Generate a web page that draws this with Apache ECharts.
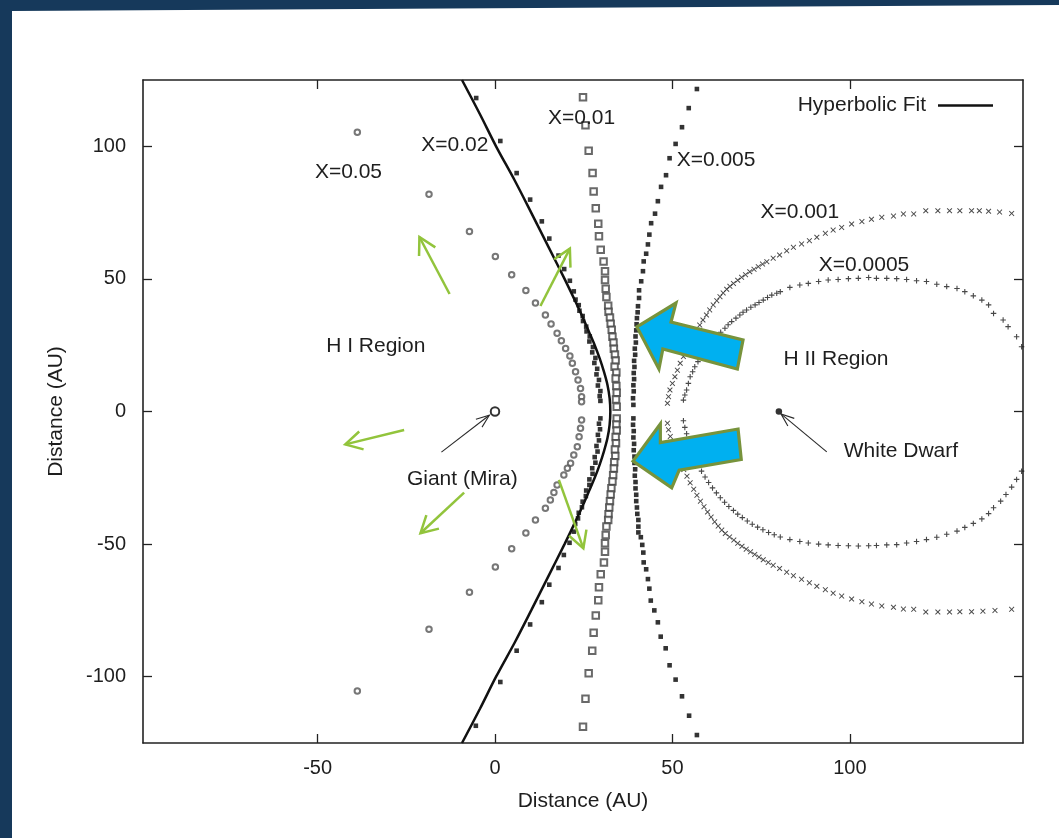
<!DOCTYPE html>
<html>
<head>
<meta charset="utf-8">
<title>Distance (AU)</title>
<script src="https://cdn.jsdelivr.net/npm/echarts@6/dist/echarts.min.js"></script>
<style>
  html, body { margin: 0; padding: 0; background: #ffffff; }
  #chart { width: 1059px; height: 838px; }
</style>
</head>
<body>
<div id="chart"></div>
<script>
// ---- axes ----
const xRange = [-99.2, 148.8];
const yRange = [-125, 125];
const xTickValues = [-50, 0, 50, 100];
const yTickValues = [-100, -50, 0, 50, 100];

// ---- ionisation-front contours, [x, y] in AU ----
const ptsX05 = [
  [-38.8,105.3],[-18.6,81.9],[-7.2,67.9],[0.1,58.4],[4.7,51.6],[8.7,45.6],[11.4,40.9],[14.2,36.4],
  [15.8,33.0],[17.5,29.5],[18.7,26.7],[19.9,23.8],[21.1,20.9],[21.8,18.2],[22.7,15.0],[23.4,11.9],
  [24.1,8.7],[24.4,5.6],[24.4,3.7],
  [24.4,-3.2],[24.1,-6.3],[23.7,-9.5],[23.2,-13.3],[22.2,-16.4],[21.3,-19.5],[20.4,-21.4],[19.4,-23.9],
  [17.5,-27.7],[16.6,-30.5],[15.6,-33.4],[14.2,-36.5],[11.4,-40.9],[8.7,-45.8],[4.7,-51.8],[0.1,-58.6],
  [-7.2,-68.2],[-18.6,-82.1],[-38.8,-105.4]
];
const ptsX02 = [
  [-5.3,118.2],[1.5,102.0],[6.1,89.9],[9.9,79.9],[13.2,71.7],[15.3,65.2],[17.9,58.8],[19.5,53.7],
  [21.1,49.3],[22.2,45.3],[22.7,42.2],[23.6,40.1],[23.8,38.0],[24.7,36.0],[24.8,34.1],[25.7,32.0],
  [25.8,30.2],[26.7,28.3],[26.6,26.4],[27.6,24.3],[27.4,22.3],[28.3,20.2],[28.0,18.3],[28.8,16.1],
  [28.6,14.0],[29.3,11.9],[29.0,9.8],[29.7,7.7],[29.5,5.8],[29.7,4.0],
  [29.7,-2.6],[29.3,-4.6],[29.6,-6.7],[29.0,-8.8],[29.3,-10.9],[28.6,-13.0],[28.9,-15.1],[28.1,-17.2],
  [28.3,-19.3],[27.4,-21.4],[27.5,-23.5],[26.6,-25.6],[26.6,-27.7],[25.7,-29.8],[25.6,-31.9],[24.7,-34.0],
  [24.5,-36.1],[23.6,-38.2],[23.4,-40.3],[22.6,-42.4],[22.2,-45.3],[21.0,-49.5],[19.4,-54.1],[17.9,-59.0],
  [15.3,-65.3],[13.2,-71.9],[9.9,-80.3],[6.1,-90.2],[1.5,-102.0],[-5.4,-118.5]
];
const ptsX01 = [
  [24.8,118.5],[25.5,107.9],[26.4,98.3],[27.5,89.9],[27.8,83.0],[28.4,76.6],[29.1,70.8],[29.3,66.1],
  [29.8,61.0],[30.6,56.6],[31.0,52.9],[31.0,49.6],[31.2,46.3],[31.4,43.2],[31.9,39.9],[32.0,37.6],
  [32.4,35.4],[32.6,33.1],[32.9,30.8],[33.1,28.2],[33.4,26.0],[33.5,23.7],[33.8,21.5],[34.0,19.2],
  [33.7,16.9],[34.2,14.7],[34.0,12.4],[34.2,9.6],[34.3,7.1],[34.1,4.5],[34.3,1.8],
  [34.3,-2.6],[34.2,-4.9],[34.3,-7.2],[34.0,-9.6],[34.1,-12.0],[33.8,-14.3],[33.9,-16.8],[33.6,-19.1],
  [33.5,-21.5],[33.3,-24.0],[33.1,-26.4],[32.8,-28.9],[32.6,-31.3],[32.4,-33.8],[32.2,-36.2],[32.0,-38.7],
  [31.9,-40.9],[31.4,-43.4],[31.2,-46.6],[31.0,-49.7],[31.0,-52.9],[30.7,-56.9],[29.8,-61.4],[29.3,-66.3],
  [29.1,-71.2],[28.4,-76.9],[27.8,-83.4],[27.4,-90.2],[26.4,-98.7],[25.5,-108.3],[24.8,-118.9]
];
const ptsX005 = [
  [56.9,121.6],[54.6,114.4],[52.7,107.2],[50.9,100.9],[49.2,95.5],[48.2,89.1],[46.8,84.7],[45.9,79.3],
  [45.1,74.6],[44.0,71.0],[43.5,66.7],[43.1,63.0],[42.6,59.5],[41.9,56.6],[41.7,52.9],[41.2,49.1],
  [40.6,45.7],[40.6,42.8],[40.3,39.7],[40.2,37.4],[40.0,35.2],[39.9,32.9],[39.8,30.6],[39.6,28.3],
  [39.7,26.0],[39.4,23.7],[39.5,21.4],[39.2,19.1],[39.3,16.8],[39.1,14.5],[39.2,12.2],[39.0,9.9],
  [39.1,7.6],[38.9,5.0],[39.0,2.5],
  [39.0,-2.6],[38.9,-5.0],[39.1,-7.4],[39.0,-9.8],[39.2,-12.2],[39.1,-14.6],[39.3,-17.0],[39.3,-19.4],
  [39.5,-21.8],[39.4,-24.2],[39.6,-26.6],[39.6,-29.0],[39.8,-31.4],[39.8,-33.8],[40.0,-36.2],[40.1,-38.6],
  [40.4,-40.9],[40.4,-43.4],[40.4,-45.6],[41.1,-47.4],[41.5,-50.3],[41.8,-53.2],[41.9,-56.9],[42.6,-59.5],
  [43.1,-63.2],[43.5,-66.8],[43.9,-71.3],[44.9,-75.0],[45.9,-79.5],[46.7,-84.9],[48.1,-89.3],[49.2,-95.7],
  [50.9,-101.1],[52.7,-107.4],[54.7,-114.7],[56.9,-122.0]
];
const ptsX001 = [
  [145.6,74.7],[142.2,75.2],[139.1,75.5],[136.5,75.7],[134.3,75.7],[131.0,75.7],[128.1,75.7],[124.8,75.7],
  [121.4,75.7],[118.0,74.5],[115.1,74.5],[112.3,73.7],[109.0,73.2],[106.1,72.5],[103.4,71.6],[100.5,70.7],
  [97.7,69.4],[95.3,68.4],[93.1,67.2],[90.7,65.7],[88.6,64.4],[86.4,63.2],[84.1,61.9],[82.2,60.6],
  [80.2,59.0],[78.4,57.8],[76.6,56.5],[75.4,55.6],[74.2,54.6],[73.0,53.6],[71.8,52.7],[70.6,51.6],
  [69.5,50.6],[68.4,49.5],[67.2,48.3],[66.2,47.2],[65.3,46.1],[64.3,44.7],[63.4,43.3],[62.5,41.8],
  [61.5,40.2],[60.5,38.3],[59.6,36.4],[58.6,34.5],[57.7,32.6],[56.7,30.4],[55.9,28.2],[54.9,25.7],
  [54.0,23.2],[53.1,20.7],[52.2,18.2],[51.4,15.6],[50.7,13.1],[50.0,10.6],[49.3,8.1],[48.9,5.6],[48.6,3.1],
  [48.6,-4.4],[48.9,-6.9],[49.4,-9.4],[50.0,-11.9],[50.7,-14.4],[51.5,-16.9],[52.3,-19.4],[53.2,-21.9],
  [54.1,-24.4],[55.0,-26.9],[56.0,-29.3],[56.9,-31.6],[57.9,-33.8],[58.9,-35.9],[59.9,-37.9],[60.9,-39.8],
  [61.9,-41.6],[62.9,-43.2],[63.9,-44.7],[64.9,-46.0],[66.1,-47.3],[67.3,-48.5],[68.4,-49.7],[69.6,-50.8],
  [70.8,-51.9],[72.0,-52.9],[73.2,-53.9],[74.4,-54.9],[75.6,-55.9],[77.0,-56.9],[78.4,-58.0],[80.2,-59.2],
  [82.2,-60.6],[84.1,-61.9],[86.4,-63.3],[88.6,-64.6],[90.7,-65.9],[93.1,-67.2],[95.3,-68.5],[97.7,-69.6],
  [100.5,-70.7],[103.4,-71.7],[106.1,-72.6],[109.0,-73.3],[112.3,-73.8],[115.1,-74.5],[118.0,-74.6],[121.4,-75.6],
  [124.8,-75.6],[128.1,-75.6],[131.0,-75.5],[134.3,-75.5],[137.5,-75.3],[140.9,-75.0],[145.6,-74.6]
];
const ptsX0005 = [
  [148.4,24.4],[147.0,28.2],[144.6,32.0],[143.2,34.5],[140.5,37.0],[139.1,40.2],[137.2,42.0],[134.8,43.6],
  [132.4,45.2],[130.2,46.4],[127.3,47.1],[124.5,48.0],[121.6,49.0],[118.8,49.3],[116.0,49.8],[113.2,50.1],
  [110.4,50.2],[107.5,50.2],[105.3,50.5],[102.4,50.2],[99.6,50.1],[96.7,49.8],[93.9,49.6],[91.2,49.0],
  [88.3,48.3],[85.9,47.7],[83.1,46.8],[80.4,45.2],[79.4,44.6],[78.0,43.9],[76.8,43.0],[75.6,42.0],
  [74.4,41.1],[73.3,40.2],[72.1,39.3],[70.9,38.3],[69.9,37.4],[69.0,36.4],[67.9,35.2],[66.7,33.9],
  [65.7,32.7],[64.8,31.4],[63.6,29.9],[62.5,28.2],[61.5,26.7],[60.6,25.1],[59.5,23.0],[58.2,20.7],
  [57.2,18.8],[56.3,16.9],[55.7,15.0],[55.0,13.1],[54.5,10.6],[54.0,8.1],[53.5,6.2],[53.1,4.3],
  [53.1,-3.5],[53.5,-6.0],[54.0,-8.4],[54.5,-10.8],[55.1,-13.2],[55.8,-15.6],[56.4,-17.9],[57.3,-20.2],
  [58.2,-22.5],[59.2,-24.7],[60.2,-26.8],[61.3,-28.8],[62.4,-30.7],[63.5,-32.5],[64.7,-34.2],[65.9,-35.8],
  [67.2,-37.3],[68.4,-38.7],[69.7,-40.0],[71.1,-41.3],[72.5,-42.5],[74.0,-43.6],[75.5,-44.6],[77.1,-45.6],
  [78.7,-46.5],[80.4,-47.3],[83.1,-48.3],[85.9,-49.0],[88.3,-49.6],[91.2,-50.0],[93.9,-50.3],[96.7,-50.5],
  [99.6,-50.6],[102.4,-50.7],[105.3,-50.6],[107.5,-50.5],[110.4,-50.3],[113.2,-50.2],[116.0,-49.6],[118.8,-49.0],
  [121.6,-48.3],[124.5,-47.4],[127.3,-46.3],[130.2,-45.1],[132.4,-43.7],[134.8,-42.2],[137.2,-40.5],[139.1,-38.5],
  [140.5,-36.3],[142.5,-33.8],[144.0,-31.3],[145.6,-28.5],[147.0,-25.6],[148.4,-22.5]
];
const hyperbolicFit = [
  [-9.3,125],[-4.2,112],[0.3,100],[5.6,87],[10.2,75],[15.1,62],[19.6,50],[23.2,40],[24.9,35],[26.5,30],
  [28.1,25],[29.5,20],[30.7,15],[31.7,10],[32.3,5],[32.5,0],[32.3,-5],[31.7,-10],[30.7,-15],[29.5,-20],
  [28.1,-25],[26.5,-30],[24.9,-35],[23.2,-40],[19.6,-50],[15.1,-62],[10.2,-75],[5.6,-87],[0.3,-100],
  [-4.2,-112],[-9.3,-125]
];
const giantStar = [[0, 0]];
const whiteDwarf = [[80, 0]];

// ---- annotations (data coordinates) ----
const curveLabels = [
  ['X=0.05', [-41.3, 90.1]],
  ['X=0.02', [-11.3, 100.5]],
  ['X=0.01', [24.4, 110.7]],
  ['X=0.005', [62.3, 94.6]],
  ['X=0.001', [85.9, 75.3]],
  ['X=0.0005', [104.0, 55.2]]
];
const regionLabels = [
  ['H I Region', [-33.6, 24.7]],
  ['H II Region', [96.1, 19.8]],
  ['Giant (Mira)', [-9.2, -25.5]],
  ['White Dwarf', [114.4, -14.9]]
];
// pointer arrows: [from, to]
const pointerArrows = [
  [[-15.1, -15.3], [-1.6, -1.4]],
  [[93.5, -15.2], [80.6, -0.9]]
];
// outflow arrows: [from, to]
const flowArrows = [
  [[-12.8, 44.3], [-21.3, 65.8]],
  [[12.8, 39.8], [21.1, 61.4]],
  [[-25.6, -7.0], [-42.2, -12.4]],
  [[-8.7, -30.6], [-21.0, -45.9]],
  [[18.0, -25.8], [24.9, -51.6]]
];
// ionising-radiation block arrows (outline polygons)
const blockArrows = [
  [[40.0,31.9],[51.0,40.9],[49.6,33.7],[69.9,27.0],[68.3,16.0],[47.3,23.6],[46.2,16.0]],
  [[38.9,-18.7],[46.6,-4.7],[46.6,-11.7],[68.5,-6.6],[69.4,-18.1],[51.9,-22.1],[49.8,-28.8]]
];

const FONT = '"Liberation Sans", Arial, Helvetica, sans-serif';
const INK = '#1e1e1e';
const CROSS = 'path://M0,1.2L1.2,0L5,3.8L8.8,0L10,1.2L6.2,5L10,8.8L8.8,10L5,6.2L1.2,10L0,8.8L3.8,5Z';
const PLUS = 'path://M4,0H6V4H10V6H6V10H4V6H0V4H4Z';

const chart = echarts.init(document.getElementById('chart'), null, { renderer: 'canvas' });

const frameLine = { show: true, onZero: false, lineStyle: { color: '#222', width: 1.6 } };
const innerTick = { show: true, inside: true, length: 9, lineStyle: { color: '#222', width: 1.3 } };

chart.setOption({
  animation: false,
  backgroundColor: '#ffffff',
  grid: { left: 143, top: 80, width: 880, height: 663, containLabel: false },
  legend: {
    data: ['Hyperbolic Fit'],
    right: 61, top: 90,
    align: 'right',
    icon: 'rect',
    itemWidth: 55, itemHeight: 2.5,
    selectedMode: false,
    textStyle: { fontFamily: FONT, fontSize: 21, color: INK, padding: [0, 7, 0, 0] }
  },
  xAxis: [
    {
      type: 'value', min: xRange[0], max: xRange[1], position: 'bottom',
      axisLine: frameLine,
      axisTick: Object.assign({ customValues: xTickValues }, innerTick),
      axisLabel: { customValues: xTickValues, fontFamily: FONT, fontSize: 20, color: INK, margin: 15 },
      splitLine: { show: false },
      name: 'Distance (AU)', nameLocation: 'middle', nameGap: 48,
      nameTextStyle: { fontFamily: FONT, fontSize: 21, color: INK }
    },
    {
      type: 'value', min: xRange[0], max: xRange[1], position: 'top',
      axisLine: frameLine,
      axisTick: Object.assign({ customValues: xTickValues }, innerTick),
      axisLabel: { show: false },
      splitLine: { show: false }
    }
  ],
  yAxis: [
    {
      type: 'value', min: yRange[0], max: yRange[1], position: 'left',
      axisLine: frameLine,
      axisTick: Object.assign({ customValues: yTickValues }, innerTick),
      axisLabel: { customValues: yTickValues, fontFamily: FONT, fontSize: 20, color: INK, margin: 17 },
      splitLine: { show: false },
      name: 'Distance (AU)', nameLocation: 'middle', nameGap: 76, nameRotate: 90,
      nameTextStyle: { fontFamily: FONT, fontSize: 21, color: INK }
    },
    {
      type: 'value', min: yRange[0], max: yRange[1], position: 'right',
      axisLine: frameLine,
      axisTick: Object.assign({ customValues: yTickValues }, innerTick),
      axisLabel: { show: false },
      splitLine: { show: false }
    }
  ],
  series: [
    { name: 'X=0.05', type: 'scatter', data: ptsX05, symbol: 'emptyCircle', symbolSize: 5.5,
      itemStyle: { color: '#555', borderWidth: 1.7 } },
    { name: 'X=0.02', type: 'scatter', data: ptsX02, symbol: 'rect', symbolSize: 4.6,
      itemStyle: { color: '#000' } },
    { name: 'X=0.01', type: 'scatter', data: ptsX01, symbol: 'emptyRect', symbolSize: 6.5,
      itemStyle: { color: '#444', borderWidth: 1.4 } },
    { name: 'X=0.005', type: 'scatter', data: ptsX005, symbol: 'rect', symbolSize: 4.6,
      itemStyle: { color: '#000' } },
    { name: 'X=0.001', type: 'scatter', data: ptsX001, symbol: CROSS, symbolSize: 5.5,
      itemStyle: { color: '#1a1a1a' } },
    { name: 'X=0.0005', type: 'scatter', data: ptsX0005, symbol: PLUS, symbolSize: 5.5,
      itemStyle: { color: '#1a1a1a' } },
    { name: 'Giant (Mira)', type: 'scatter', data: giantStar, symbol: 'emptyCircle', symbolSize: 8.5,
      itemStyle: { color: '#000', borderWidth: 2.4 } },
    { name: 'White Dwarf', type: 'scatter', data: whiteDwarf, symbol: 'circle', symbolSize: 6.5,
      itemStyle: { color: '#000' } },
    { name: 'Hyperbolic Fit', type: 'line', data: hyperbolicFit, showSymbol: false, smooth: 0.3,
      lineStyle: { color: '#111', width: 2.5 }, itemStyle: { color: '#111' }, z: 5 }
  ]
});

// ---- overlay drawing ----
const toPx = p => chart.convertToPixel({ gridIndex: 0 }, p);

function openHead(fromPx, tipPx, len, deg) {
  const dx = fromPx[0] - tipPx[0], dy = fromPx[1] - tipPx[1];
  const n = Math.hypot(dx, dy), ux = dx / n, uy = dy / n;
  const a = deg * Math.PI / 180, c = Math.cos(a), s = Math.sin(a);
  return [
    [tipPx[0] + len * (ux * c - uy * s), tipPx[1] + len * (ux * s + uy * c)],
    tipPx,
    [tipPx[0] + len * (ux * c + uy * s), tipPx[1] + len * (-ux * s + uy * c)]
  ];
}

function textEl(str, at, size) {
  const p = toPx(at);
  return {
    type: 'text', x: p[0], y: p[1], z: 20,
    style: {
      text: str, font: size + 'px ' + FONT, fill: INK,
      align: 'center', verticalAlign: 'middle',
      textAlign: 'center', textVerticalAlign: 'middle'
    }
  };
}

const graphics = [];

// slide backdrop edges
graphics.push({
  type: 'polygon', z: 0, silent: true,
  shape: { points: [[0, 0], [1059, 0], [1059, 5], [12, 11], [12, 838], [0, 838]] },
  style: { fill: '#16395b' }
});

curveLabels.forEach(([t, at]) => graphics.push(textEl(t, at, 21)));
regionLabels.forEach(([t, at]) => graphics.push(textEl(t, at, 21)));

pointerArrows.forEach(([from, to]) => {
  const a = toPx(from), b = toPx(to);
  graphics.push({ type: 'polyline', z: 20, shape: { points: [a, b] },
    style: { stroke: '#2a2a2a', lineWidth: 1.1, fill: null } });
  graphics.push({ type: 'polyline', z: 20, shape: { points: openHead(a, b, 14, 21) },
    style: { stroke: '#2a2a2a', lineWidth: 1.1, fill: null } });
});

flowArrows.forEach(([from, to]) => {
  const a = toPx(from), b = toPx(to);
  graphics.push({ type: 'polyline', z: 25, shape: { points: [a, b] },
    style: { stroke: '#92c43c', lineWidth: 2.5, fill: null, lineCap: 'butt' } });
  graphics.push({ type: 'polyline', z: 25, shape: { points: openHead(a, b, 19, 29) },
    style: { stroke: '#92c43c', lineWidth: 2.5, fill: null, lineJoin: 'miter' } });
});

blockArrows.forEach(poly => {
  graphics.push({ type: 'polygon', z: 30, shape: { points: poly.map(toPx) },
    style: { fill: '#00b0f0', stroke: '#77933c', lineWidth: 3.2, lineJoin: 'miter' } });
});

chart.setOption({ graphic: graphics });
</script>
</body>
</html>
